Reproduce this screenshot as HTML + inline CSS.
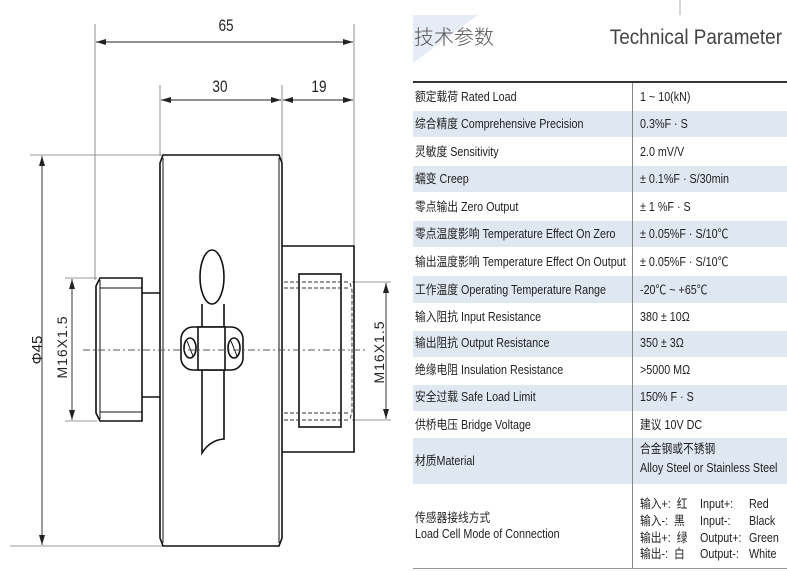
<!DOCTYPE html>
<html><head><meta charset="utf-8">
<style>
body{margin:0;width:787px;height:571px;background:#fff;overflow:hidden;position:relative;font-family:"Liberation Sans","Noto Sans CJK SC",sans-serif;}
.row{position:absolute;left:413px;width:374px;}
.sh{background:#dfe7f1;}
.c{position:absolute;white-space:nowrap;font-size:12.5px;color:#222;transform:scaleX(0.86);transform-origin:left center;line-height:14px;}
.l{left:2px;}
.r{left:227px;}
</style></head><body>
<svg width="787" height="571" style="position:absolute;left:0;top:0" xmlns="http://www.w3.org/2000/svg">
<defs>
<marker id="a" viewBox="0 0 10 6" refX="10" refY="3" markerWidth="10" markerHeight="6" orient="auto-start-reverse" markerUnits="userSpaceOnUse"><path d="M0,0 L10,3 L0,6z" fill="#222"/></marker>
</defs>
<g stroke="#777" stroke-width="0.8" fill="none">
<line x1="95" y1="24" x2="95" y2="280"/>
<line x1="354" y1="24" x2="354" y2="248"/>
<line x1="160" y1="85" x2="160" y2="156"/>
<line x1="282" y1="85" x2="282" y2="248"/>
<line x1="30" y1="155" x2="162" y2="155"/>
<line x1="10" y1="546" x2="162" y2="546"/>
<line x1="65" y1="278" x2="97" y2="278"/>
<line x1="65" y1="421" x2="97" y2="421"/>
<line x1="352" y1="282" x2="391" y2="282"/>
<line x1="352" y1="420" x2="391" y2="420"/>
</g>
<g stroke="#222" stroke-width="0.9" fill="none">
<line x1="96" y1="42" x2="353" y2="42" marker-start="url(#a)" marker-end="url(#a)"/>
<line x1="161" y1="100" x2="281" y2="100" marker-start="url(#a)" marker-end="url(#a)"/>
<line x1="283" y1="100" x2="353" y2="100" marker-start="url(#a)" marker-end="url(#a)"/>
<line x1="42" y1="156" x2="42" y2="545" marker-start="url(#a)" marker-end="url(#a)"/>
<line x1="72" y1="279" x2="72" y2="420" marker-start="url(#a)" marker-end="url(#a)"/>
<line x1="386" y1="283" x2="386" y2="419" marker-start="url(#a)" marker-end="url(#a)"/>
</g>
<g stroke="#111" stroke-width="1.6" fill="none">
<path d="M163,155 L279,155 L282,163 L282,538 L279,546 L163,546 L160,538 L160,163 Z"/>
<line x1="163" y1="158" x2="163" y2="543" stroke-width="1"/>
<line x1="279" y1="158" x2="279" y2="543" stroke-width="1"/>
<path d="M100,278 L142,278 L142,421 L100,421 L96,413 L96,286 Z"/>
<line x1="100" y1="280" x2="100" y2="419" stroke-width="1"/>
<line x1="100" y1="288" x2="142" y2="288" stroke-width="1"/>
<line x1="100" y1="412" x2="142" y2="412" stroke-width="1"/>
<path d="M142,293 L160,293 M142,397 L160,397"/>
<path d="M282,246 L354,246 L354,452 L282,452"/>
<rect x="299" y="274" width="42" height="153"/>
<ellipse cx="212" cy="277" rx="12" ry="27"/>
<path d="M202,304 L202,453 Q210,440 224,439 L224,304"/>
<rect x="181" y="327" width="62" height="43" rx="12" fill="#fff"/>
<rect x="198" y="327" width="27" height="43" fill="#fff"/>
<ellipse cx="190" cy="348" rx="6" ry="10"/>
<ellipse cx="234" cy="348" rx="6" ry="10"/>
<line x1="187" y1="341" x2="193" y2="356" stroke-width="1"/>
<line x1="231" y1="341" x2="237" y2="356" stroke-width="1"/>
</g>
<g stroke="#333" stroke-width="1" stroke-dasharray="4,2" fill="none">
<line x1="284" y1="282" x2="350" y2="282"/>
<line x1="284" y1="288" x2="350" y2="288"/>
<line x1="284" y1="413" x2="350" y2="413"/>
<line x1="284" y1="420" x2="350" y2="420"/>
<path d="M350,283 L352,290 L352,412 L350,419"/>
</g>
<line x1="83" y1="350" x2="365" y2="350" stroke="#555" stroke-width="1" stroke-dasharray="7,3,2,3"/>
<g font-family="Liberation Sans, sans-serif" fill="#222" font-size="17">
<text x="226" y="31" text-anchor="middle" transform="translate(226,0) scale(0.8,1) translate(-226,0)">65</text>
<text x="220" y="92" text-anchor="middle" transform="translate(220,0) scale(0.8,1) translate(-220,0)">30</text>
<text x="319" y="92" text-anchor="middle" transform="translate(319,0) scale(0.8,1) translate(-319,0)">19</text>
<text x="0" y="0" text-anchor="middle" font-size="15" transform="translate(42,350) rotate(-90)">Φ45</text>
<text x="0" y="0" text-anchor="middle" font-size="14" letter-spacing="1" transform="translate(67,347) rotate(-90)">M16X1.5</text>
<text x="0" y="0" text-anchor="middle" font-size="14" letter-spacing="1" transform="translate(384,352) rotate(-90)">M16X1.5</text>
</g>
<polygon points="413,15 478,15 413,63" fill="#e6ecf5"/>
<line x1="680" y1="0" x2="680" y2="15" stroke="#999" stroke-width="0.8"/>
<text x="414" y="44" font-family="Noto Sans CJK SC, sans-serif" font-size="20" fill="#555" font-weight="300">技术参数</text>
<text x="782" y="44" text-anchor="end" font-family="Liberation Sans, sans-serif" font-size="21" fill="#444" transform="translate(782,0) scale(0.9,1) translate(-782,0)">Technical Parameter</text>
</svg>

<div style="position:absolute;left:413px;top:81px;width:374px;height:2px;background:#333"></div>

<div class="row" style="top:83px;height:27px"><span class="c l" style="top:7px">额定载荷 Rated Load</span><span class="c r" style="top:7px">1 ~ 10(kN)</span></div>
<div class="row sh" style="top:111px;height:26px"><span class="c l" style="top:6px">综合精度 Comprehensive Precision</span><span class="c r" style="top:6px">0.3%F · S</span></div>
<div class="row" style="top:138px;height:27px"><span class="c l" style="top:7px">灵敏度 Sensitivity</span><span class="c r" style="top:7px">2.0 mV/V</span></div>
<div class="row sh" style="top:166px;height:26px"><span class="c l" style="top:6px">蠕变 Creep</span><span class="c r" style="top:6px">± 0.1%F · S/30min</span></div>
<div class="row" style="top:193px;height:27px"><span class="c l" style="top:7px">零点输出 Zero Output</span><span class="c r" style="top:7px">± 1 %F · S</span></div>
<div class="row sh" style="top:221px;height:26px"><span class="c l" style="top:6px">零点温度影响 Temperature Effect On Zero</span><span class="c r" style="top:6px">± 0.05%F · S/10℃</span></div>
<div class="row" style="top:248px;height:27px"><span class="c l" style="top:7px">输出温度影响 Temperature Effect On Output</span><span class="c r" style="top:7px">± 0.05%F · S/10℃</span></div>
<div class="row sh" style="top:276px;height:27px"><span class="c l" style="top:7px">工作温度 Operating Temperature Range</span><span class="c r" style="top:7px">-20℃ ~ +65℃</span></div>
<div class="row" style="top:303px;height:27px"><span class="c l" style="top:7px">输入阻抗 Input Resistance</span><span class="c r" style="top:7px">380 ± 10Ω</span></div>
<div class="row sh" style="top:331px;height:26px"><span class="c l" style="top:5px">输出阻抗 Output Resistance</span><span class="c r" style="top:5px">350 ± 3Ω</span></div>
<div class="row" style="top:357px;height:27px"><span class="c l" style="top:6px">绝缘电阻 Insulation Resistance</span><span class="c r" style="top:6px">&gt;5000 MΩ</span></div>
<div class="row sh" style="top:385px;height:26px"><span class="c l" style="top:5px">安全过载 Safe Load Limit</span><span class="c r" style="top:5px">150% F · S</span></div>
<div class="row" style="top:411px;height:27px"><span class="c l" style="top:7px">供桥电压 Bridge Voltage</span><span class="c r" style="top:7px">建议 10V DC</span></div>
<div class="row sh" style="top:438px;height:46px"><span class="c l" style="top:16px">材质Material</span><span class="c r" style="top:4px">合金钢或不锈钢</span><span class="c r" style="top:23px">Alloy Steel or Stainless Steel</span></div>
<div class="row" style="top:484px;height:84px">
<span class="c l" style="top:27px">传感器接线方式</span><span class="c l" style="top:43px">Load Cell Mode of Connection</span>
<span class="c r" style="top:13px">输入+:&nbsp; 红</span><span class="c" style="left:287px;top:13px">Input+:</span><span class="c" style="left:336px;top:13px">Red</span>
<span class="c r" style="top:30px">输入-:&nbsp; 黑</span><span class="c" style="left:287px;top:30px">Input-:</span><span class="c" style="left:336px;top:30px">Black</span>
<span class="c r" style="top:47px">输出+:&nbsp; 绿</span><span class="c" style="left:287px;top:47px">Output+:</span><span class="c" style="left:336px;top:47px">Green</span>
<span class="c r" style="top:63px">输出-:&nbsp; 白</span><span class="c" style="left:287px;top:63px">Output-:</span><span class="c" style="left:336px;top:63px">White</span>
</div>
<div style="position:absolute;left:632px;top:83px;width:1px;height:485px;background:#888"></div>
<div style="position:absolute;left:413px;top:568px;width:374px;height:1px;background:#999"></div>
</body></html>
